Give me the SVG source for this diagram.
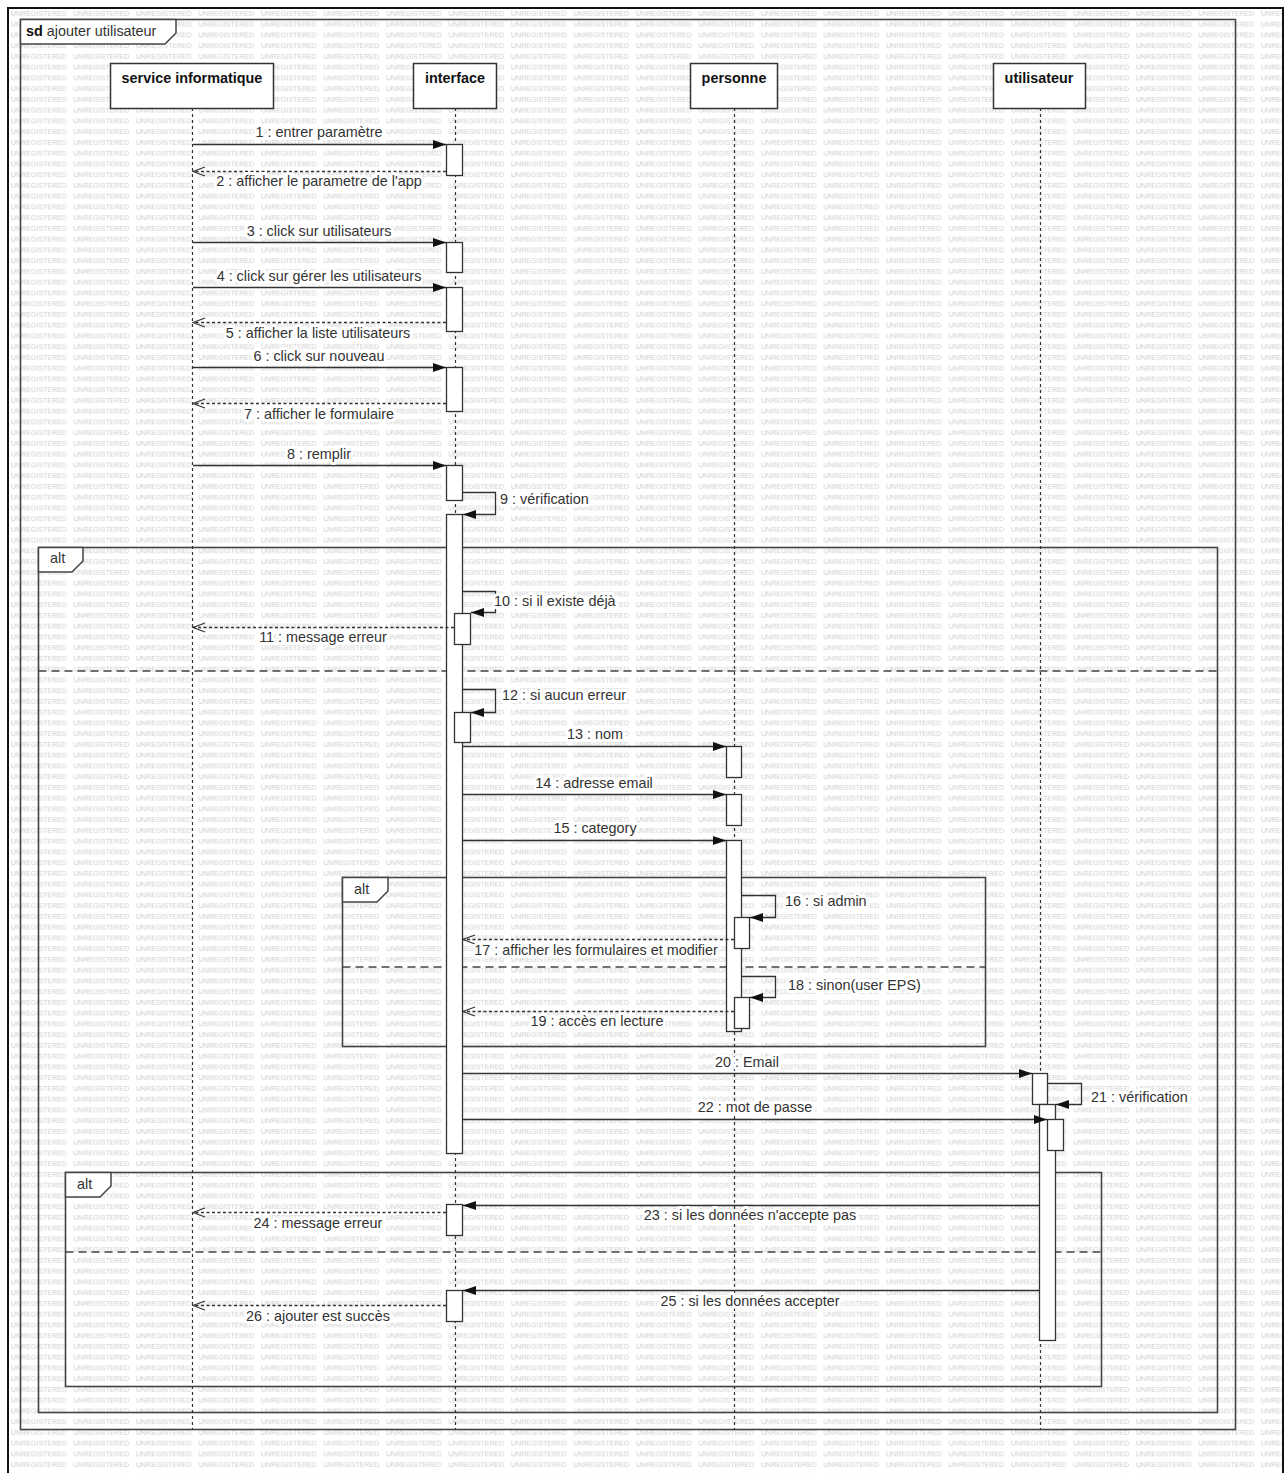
<svg xmlns="http://www.w3.org/2000/svg" width="1287" height="1473" viewBox="0 0 1287 1473">
<style>
.t{font-family:"Liberation Sans",Arial,sans-serif;font-size:14.4px;fill:#333}
.b{font-weight:bold;fill:#111}
.lbl{paint-order:stroke;stroke:#fff;stroke-width:6px;stroke-linejoin:round}
.ln{stroke:#333;stroke-width:1.3;fill:none}
.call{marker-end:url(#fa)}
.ret{stroke-dasharray:3 2.5;marker-end:url(#oa)}
.life{stroke:#333;stroke-width:1.2;stroke-dasharray:3 3}
.box{fill:#fff;stroke:#333;stroke-width:1.5}
.act{fill:#fff;stroke:#333;stroke-width:1.3}
.frame{fill:none;stroke:#444;stroke-width:1.6}
.tab{fill:#fff;stroke:#444;stroke-width:1.5}
.div{stroke:#444;stroke-width:1.5;stroke-dasharray:8 5}
.wm{font-family:"Liberation Sans",Arial,sans-serif;font-size:7px;fill:#cdcdcd}
</style>
<defs>
<pattern id="wmp" patternUnits="userSpaceOnUse" x="11" y="9" width="62.5" height="10.75">
<text class="wm" x="0" y="7">UNREGISTERED</text>
</pattern>
<marker id="fa" markerUnits="userSpaceOnUse" markerWidth="14" markerHeight="10" refX="13" refY="5" orient="auto">
<path d="M0,0.5 L13,5 L0,9.5 z" fill="#111"/>
</marker>
<marker id="oa" markerUnits="userSpaceOnUse" markerWidth="14" markerHeight="12" refX="13" refY="5.5" orient="auto">
<path d="M1,1 L13,5.5 L1,10" fill="none" stroke="#333" stroke-width="1.3"/>
</marker>
</defs>
<rect x="0" y="0" width="1287" height="1473" fill="#fff"/>
<rect x="8" y="8" width="1275" height="1470" fill="url(#wmp)"/>
<rect x="8" y="8" width="1275" height="1470" fill="none" stroke="#111" stroke-width="2"/>

<g id="frame-sd">
<rect class="frame" x="20.5" y="19.5" width="1215" height="1410"/>
<path class="tab" d="M20.5,19.5 H176 V33 L165,44 H20.5 Z"/>
<text class="t" x="26" y="36"><tspan font-weight="bold" fill="#111">sd</tspan> ajouter utilisateur</text>
</g>

<g id="alt-outer">
<rect class="frame" x="38.5" y="547.5" width="1179" height="865"/>
<path class="tab" d="M38.5,547.5 H83 V561 L72,572 H38.5 Z"/>
<text class="t" x="50" y="563">alt</text>
<line class="div" x1="38.5" y1="671" x2="1217.5" y2="671"/>
</g>

<g id="alt-inner">
<rect class="frame" x="342.5" y="877.5" width="643" height="169"/>
<path class="tab" d="M342.5,877.5 H388 V891 L377,902 H342.5 Z"/>
<text class="t" x="354" y="894">alt</text>
<line class="div" x1="342.5" y1="967" x2="985.5" y2="967"/>
</g>

<g id="alt-bottom">
<rect class="frame" x="65.5" y="1172.5" width="1036" height="214"/>
<path class="tab" d="M65.5,1172.5 H111 V1186 L100,1197 H65.5 Z"/>
<text class="t" x="77" y="1189">alt</text>
<line class="div" x1="65.5" y1="1252" x2="1101.5" y2="1252"/>
</g>

<g id="service-informatique">
<line class="life" x1="192.5" y1="108" x2="192.5" y2="1430"/>
<rect class="box" x="110.5" y="63.5" width="163" height="45"/>
<text class="t b" x="192" y="83" text-anchor="middle">service informatique</text>
</g>

<g id="interface">
<line class="life" x1="455.5" y1="108" x2="455.5" y2="1430"/>
<rect class="box" x="413.5" y="63.5" width="83" height="45"/>
<text class="t b" x="455" y="83" text-anchor="middle">interface</text>
<rect class="act" x="446.5" y="144.5" width="16" height="31"/>
<rect class="act" x="446.5" y="242.5" width="16" height="30"/>
<rect class="act" x="446.5" y="287.5" width="16" height="44"/>
<rect class="act" x="446.5" y="367.5" width="16" height="44"/>
<rect class="act" x="446.5" y="465.5" width="16" height="35"/>
<rect class="act" x="446.5" y="514.5" width="16" height="639"/>
<rect class="act" x="454.5" y="613.5" width="16" height="31"/>
<rect class="act" x="454.5" y="712.5" width="16" height="30"/>
<rect class="act" x="446.5" y="1204.5" width="16" height="31"/>
<rect class="act" x="446.5" y="1290.5" width="16" height="31"/>
</g>

<g id="personne">
<line class="life" x1="734.5" y1="108" x2="734.5" y2="1430"/>
<rect class="box" x="690.5" y="63.5" width="87" height="45"/>
<text class="t b" x="734" y="83" text-anchor="middle">personne</text>
<rect class="act" x="726.5" y="746.5" width="15" height="31"/>
<rect class="act" x="726.5" y="794.5" width="15" height="31"/>
<rect class="act" x="726.5" y="840.5" width="15" height="191"/>
<rect class="act" x="734.5" y="917.5" width="15" height="31"/>
<rect class="act" x="734.5" y="997.5" width="15" height="31"/>
</g>

<g id="utilisateur">
<line class="life" x1="1040.5" y1="108" x2="1040.5" y2="1430"/>
<rect class="box" x="993.5" y="63.5" width="92" height="45"/>
<text class="t b" x="1039" y="83" text-anchor="middle">utilisateur</text>
<rect class="act" x="1032.5" y="1073.5" width="15" height="31"/>
<rect class="act" x="1039.5" y="1104.5" width="16" height="236"/>
<rect class="act" x="1047.5" y="1119.5" width="16" height="31"/>
</g>

<g id="connectors">
<line class="ln call" x1="193" y1="144.5" x2="446" y2="144.5"/>
<text class="t lbl" x="319" y="137" text-anchor="middle">1 : entrer paramètre</text>
<line class="ln ret" x1="446" y1="171.5" x2="193" y2="171.5"/>
<text class="t lbl" x="319" y="186" text-anchor="middle">2 : afficher le parametre de l'app</text>
<line class="ln call" x1="193" y1="242.5" x2="446" y2="242.5"/>
<text class="t lbl" x="319" y="236" text-anchor="middle">3 : click sur utilisateurs</text>
<line class="ln call" x1="193" y1="287.5" x2="446" y2="287.5"/>
<text class="t lbl" x="319" y="281" text-anchor="middle">4 : click sur gérer les utilisateurs</text>
<line class="ln ret" x1="446" y1="322.5" x2="193" y2="322.5"/>
<text class="t lbl" x="318" y="338" text-anchor="middle">5 : afficher la liste utilisateurs</text>
<line class="ln call" x1="193" y1="367.5" x2="446" y2="367.5"/>
<text class="t lbl" x="319" y="361" text-anchor="middle">6 : click sur nouveau</text>
<line class="ln ret" x1="446" y1="403.5" x2="193" y2="403.5"/>
<text class="t lbl" x="319" y="419" text-anchor="middle">7 : afficher le formulaire</text>
<line class="ln call" x1="193" y1="465.5" x2="446" y2="465.5"/>
<text class="t lbl" x="319" y="459" text-anchor="middle">8 : remplir</text>
<path class="ln call" d="M463,492.5 H495.5 V514.5 H463"/>
<text class="t lbl" x="500" y="504">9 : vérification</text>
<path class="ln call" d="M463,591.5 H495.5 V612.5 H471"/>
<text class="t lbl" x="494" y="606">10 : si il existe déjà</text>
<line class="ln ret" x1="454" y1="627.5" x2="193" y2="627.5"/>
<text class="t lbl" x="323" y="642" text-anchor="middle">11 : message erreur</text>
<path class="ln call" d="M463,689.5 H495.5 V712.5 H471"/>
<text class="t lbl" x="502" y="700">12 : si aucun erreur</text>
<line class="ln call" x1="463" y1="746.5" x2="726" y2="746.5"/>
<text class="t lbl" x="595" y="739" text-anchor="middle">13 : nom</text>
<line class="ln call" x1="463" y1="794.5" x2="726" y2="794.5"/>
<text class="t lbl" x="594" y="788" text-anchor="middle">14 : adresse email</text>
<line class="ln call" x1="463" y1="840.5" x2="726" y2="840.5"/>
<text class="t lbl" x="595" y="833" text-anchor="middle">15 : category</text>
<path class="ln call" d="M742,895.5 H775.5 V917.5 H750"/>
<text class="t lbl" x="785" y="906">16 : si admin</text>
<line class="ln ret" x1="734" y1="939.5" x2="463" y2="939.5"/>
<text class="t lbl" x="596" y="955" text-anchor="middle">17 : afficher les formulaires et modifier</text>
<path class="ln call" d="M742,976.5 H775.5 V997.5 H750"/>
<text class="t lbl" x="788" y="990">18 : sinon(user EPS)</text>
<line class="ln ret" x1="734" y1="1011.5" x2="463" y2="1011.5"/>
<text class="t lbl" x="597" y="1026" text-anchor="middle">19 : accès en lecture</text>
<line class="ln call" x1="463" y1="1073.5" x2="1032" y2="1073.5"/>
<text class="t lbl" x="747" y="1067" text-anchor="middle">20 : Email</text>
<path class="ln call" d="M1048,1083.5 H1081.5 V1104.5 H1056"/>
<text class="t lbl" x="1091" y="1102">21 : vérification</text>
<line class="ln call" x1="463" y1="1119.5" x2="1047" y2="1119.5"/>
<text class="t lbl" x="755" y="1112" text-anchor="middle">22 : mot de passe</text>
<line class="ln call" x1="1039" y1="1205.5" x2="463" y2="1205.5"/>
<text class="t lbl" x="750" y="1220" text-anchor="middle">23 : si les données n'accepte pas</text>
<line class="ln ret" x1="446" y1="1212.5" x2="193" y2="1212.5"/>
<text class="t lbl" x="318" y="1228" text-anchor="middle">24 : message erreur</text>
<line class="ln call" x1="1039" y1="1290.5" x2="463" y2="1290.5"/>
<text class="t lbl" x="750" y="1306" text-anchor="middle">25 : si les données accepter</text>
<line class="ln ret" x1="446" y1="1305.5" x2="193" y2="1305.5"/>
<text class="t lbl" x="318" y="1321" text-anchor="middle">26 : ajouter est succès</text>
</g>
</svg>
